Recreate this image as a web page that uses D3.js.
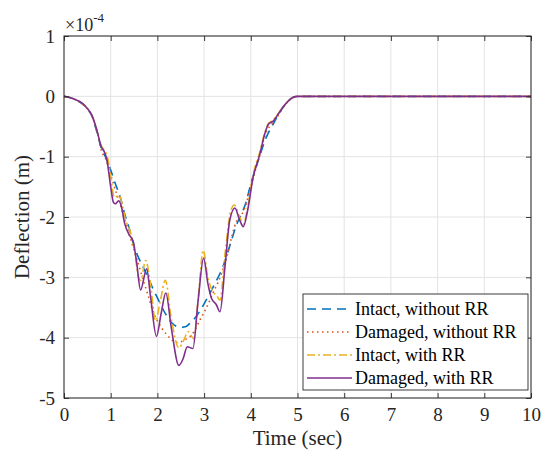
<!DOCTYPE html>
<html>
<head>
<meta charset="utf-8">
<script src="https://cdn.jsdelivr.net/npm/d3@7"></script>
</head>
<body style="margin:0;padding:0;background:#fff;">
<svg id="chart" width="545" height="456"></svg>
<script>
// ---- data (deflection in units of 1e-4 m) ----
const xTicks = [0,1,2,3,4,5,6,7,8,9,10];
const yTicks = [1,0,-1,-2,-3,-4,-5];
const seriesNames = ["Intact, without RR","Damaged, without RR","Intact, with RR","Damaged, with RR"];

const intactNoRR = [[0,0],[0.2,-0.04],[0.4,-0.13],[0.5,-0.2],[0.6,-0.33],[0.7,-0.58],[0.8,-0.86],[0.9,-1.02],[1.0,-1.22],[1.1,-1.45],[1.2,-1.66],[1.3,-1.95],[1.4,-2.2],[1.5,-2.48],[1.6,-2.68],[1.7,-2.84],[1.8,-3.0],[1.9,-3.18],[2.0,-3.34],[2.1,-3.5],[2.2,-3.64],[2.3,-3.75],[2.4,-3.81],[2.5,-3.83],[2.6,-3.82],[2.7,-3.76],[2.8,-3.68],[2.9,-3.57],[3.0,-3.44],[3.1,-3.3],[3.2,-3.15],[3.3,-3.0],[3.4,-2.83],[3.5,-2.6],[3.6,-2.35],[3.7,-2.12],[3.8,-1.95],[3.9,-1.75],[4.0,-1.45],[4.1,-1.2],[4.2,-0.97],[4.3,-0.74],[4.4,-0.57],[4.5,-0.43],[4.6,-0.29],[4.7,-0.17],[4.8,-0.08],[4.9,-0.02],[5.0,0],[10,0]];

const damagedNoRR = [[0,0],[0.2,-0.04],[0.4,-0.13],[0.5,-0.21],[0.6,-0.33],[0.7,-0.56],[0.8,-0.9],[0.9,-1.05],[1.0,-1.3],[1.1,-1.55],[1.2,-1.78],[1.3,-2.05],[1.4,-2.3],[1.5,-2.55],[1.6,-2.8],[1.7,-3.05],[1.8,-3.3],[1.9,-3.55],[2.0,-3.72],[2.1,-3.85],[2.2,-3.95],[2.3,-4.03],[2.4,-4.08],[2.5,-4.07],[2.6,-4.03],[2.7,-3.98],[2.8,-3.88],[2.9,-3.72],[3.0,-3.58],[3.1,-3.42],[3.2,-3.24],[3.3,-3.08],[3.4,-2.88],[3.5,-2.62],[3.6,-2.3],[3.7,-2.06],[3.8,-1.97],[3.9,-1.78],[4.0,-1.5],[4.1,-1.22],[4.2,-0.95],[4.3,-0.66],[4.4,-0.5],[4.5,-0.42],[4.6,-0.3],[4.7,-0.18],[4.8,-0.08],[4.9,-0.02],[5.0,0],[10,0]];

const intactRR = [[0,0],[0.2,-0.04],[0.4,-0.12],[0.5,-0.2],[0.6,-0.32],[0.7,-0.55],[0.8,-0.82],[0.87,-0.9],[0.93,-1.0],[1.0,-1.33],[1.08,-1.68],[1.18,-1.64],[1.25,-1.8],[1.32,-2.05],[1.41,-2.22],[1.5,-2.5],[1.59,-2.98],[1.64,-3.05],[1.75,-2.72],[1.85,-3.1],[1.96,-3.72],[2.06,-3.4],[2.17,-3.05],[2.3,-3.7],[2.46,-4.17],[2.56,-4.05],[2.66,-3.9],[2.78,-4.02],[2.88,-3.3],[2.98,-2.55],[3.08,-3.0],[3.19,-3.24],[3.27,-3.3],[3.34,-3.38],[3.45,-2.6],[3.57,-1.9],[3.65,-1.8],[3.75,-1.98],[3.84,-2.12],[3.93,-1.85],[4.05,-1.3],[4.19,-0.93],[4.3,-0.6],[4.38,-0.45],[4.48,-0.39],[4.6,-0.27],[4.7,-0.17],[4.8,-0.08],[4.9,-0.02],[5.0,0],[10,0]];

const damagedRR = [[0,0],[0.2,-0.04],[0.4,-0.12],[0.5,-0.2],[0.6,-0.32],[0.7,-0.55],[0.8,-0.84],[0.87,-0.93],[0.92,-1.06],[1.0,-1.5],[1.06,-1.76],[1.1,-1.78],[1.17,-1.73],[1.23,-1.83],[1.3,-2.11],[1.4,-2.3],[1.48,-2.4],[1.55,-2.72],[1.64,-3.21],[1.77,-2.86],[1.85,-3.3],[1.98,-3.98],[2.08,-3.6],[2.18,-3.26],[2.3,-3.85],[2.46,-4.46],[2.55,-4.35],[2.64,-4.15],[2.76,-4.18],[2.87,-3.4],[2.99,-2.68],[3.08,-3.1],[3.16,-3.35],[3.26,-3.45],[3.34,-3.57],[3.45,-2.8],[3.55,-2.05],[3.66,-1.85],[3.76,-2.05],[3.84,-2.16],[3.93,-1.9],[4.05,-1.34],[4.19,-0.97],[4.3,-0.62],[4.38,-0.46],[4.48,-0.41],[4.6,-0.28],[4.7,-0.17],[4.8,-0.08],[4.9,-0.02],[5.0,0],[10,0]];

// ---- layout ----
const FONT = "Liberation Serif";
const svg = d3.select("#chart");
const L = 64, R = 531, T = 36, B = 398;
const axisColor = "#262626";
const x = d3.scaleLinear().domain([0,10]).range([L,R]);
const y = d3.scaleLinear().domain([-5,1]).range([B,T]);

function txt(sel, size){
  return sel.attr("font-family",FONT).style("font-family",FONT).attr("font-size",size);
}

// grid
const grid = svg.append("g");
grid.selectAll("line.vx").data(xTicks).enter().append("line")
  .attr("x1",d=>x(d)).attr("x2",d=>x(d)).attr("y1",T).attr("y2",B)
  .attr("stroke","#e3e3e3").attr("stroke-width",1);
grid.selectAll("line.hy").data(yTicks).enter().append("line")
  .attr("x1",L).attr("x2",R).attr("y1",d=>y(d)).attr("y2",d=>y(d))
  .attr("stroke","#e3e3e3").attr("stroke-width",1);

// series
const styles = [
  {data:intactNoRR, color:"#0072BD", dash:"9,6", w:1.6},
  {data:damagedNoRR, color:"#D95319", dash:"1.5,3.5", w:1.6},
  {data:intactRR, color:"#EDB120", dash:"8,3,2,3", w:1.6},
  {data:damagedRR, color:"#7E2F8E", dash:null, w:1.6}
];
const line = d3.line().x(d=>x(d[0])).y(d=>y(d[1])).curve(d3.curveMonotoneX);
const plot = svg.append("g");
styles.forEach(s=>{
  const p = plot.append("path").datum(s.data).attr("d",line)
    .attr("fill","none").attr("stroke",s.color).attr("stroke-width",s.w)
    .attr("stroke-linejoin","round");
  if(s.dash) p.attr("stroke-dasharray",s.dash);
});

// axes (ticks inward on all sides)
const tickLen = 5;
const ax = svg.append("g");
const xb = d3.axisBottom(x).tickValues(xTicks).tickSize(-tickLen).tickPadding(10).tickFormat(d3.format("d"));
const xt = d3.axisTop(x).tickValues(xTicks).tickSize(-tickLen).tickFormat("");
const yl = d3.axisLeft(y).tickValues(yTicks).tickSize(-tickLen).tickPadding(9).tickFormat(d=>d<0?"-"+Math.abs(d):String(d));
const yr = d3.axisRight(y).tickValues(yTicks).tickSize(-tickLen).tickFormat("");
function styleAxis(g){
  txt(g,19);
  g.select(".domain").remove();
  g.selectAll("line").attr("stroke",axisColor).attr("stroke-width",0.9);
  txt(g.selectAll("text"),19).attr("fill",axisColor);
}
ax.append("g").attr("transform",`translate(0,${B})`).call(xb).call(styleAxis);
ax.append("g").attr("transform",`translate(0,${T})`).call(xt).call(styleAxis);
ax.append("g").attr("transform",`translate(${L},0)`).call(yl).call(styleAxis);
ax.append("g").attr("transform",`translate(${R},0)`).call(yr).call(styleAxis);
svg.append("rect").attr("x",L).attr("y",T).attr("width",R-L).attr("height",B-T)
  .attr("fill","none").attr("stroke",axisColor).attr("stroke-width",1);

// exponent label
const ex = txt(svg.append("text").attr("x",L+1).attr("y",31),18).attr("fill",axisColor);
ex.append("tspan").text("\u00d710");
ex.append("tspan").attr("dy",-9).attr("font-size",13).text("-4");

// axis labels
txt(svg.append("text").attr("x",(L+R)/2).attr("y",445).attr("text-anchor","middle"),21)
  .attr("fill",axisColor).text("Time (sec)");
txt(svg.append("text").attr("transform",`translate(29,${(T+B)/2}) rotate(-90)`)
  .attr("text-anchor","middle"),21).attr("fill",axisColor).text("Deflection (m)");

// legend
const lg = svg.append("g");
const lx = 303, ly = 294, lw = 225, lh = 96;
lg.append("rect").attr("x",lx).attr("y",ly).attr("width",lw).attr("height",lh)
  .attr("fill","#fff").attr("stroke",axisColor).attr("stroke-width",0.9);
styles.forEach((s,i)=>{
  const cy = ly + 15 + i*23;
  const l = lg.append("line").attr("x1",lx+4).attr("x2",lx+49).attr("y1",cy).attr("y2",cy)
    .attr("stroke",s.color).attr("stroke-width",s.w);
  if(s.dash) l.attr("stroke-dasharray",s.dash);
  txt(lg.append("text").attr("x",lx+52).attr("y",cy+6),18)
    .attr("fill","#000").text(seriesNames[i]);
});
</script>
</body>
</html>
